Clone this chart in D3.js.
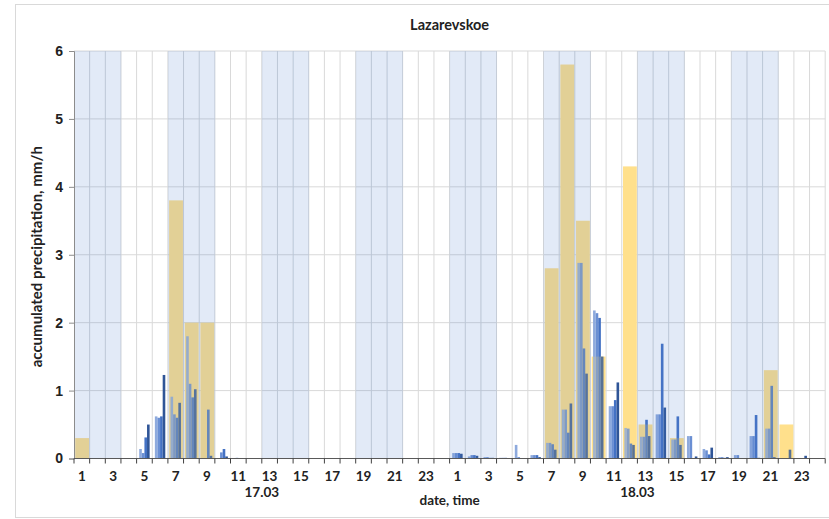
<!DOCTYPE html>
<html>
<head>
<meta charset="utf-8">
<script src="https://cdn.jsdelivr.net/npm/d3@7"></script>
<style>
  body { margin: 0; background: #fff; }
  svg { display: block; font-family: Lato, "Noto Sans", sans-serif; }
</style>
</head>
<body>
<svg id="chart" width="829" height="519"></svg>
<script>
// station and labels
const title = 'Lazarevskoe';
const dayLabels = ['17.03', '18.03'];
const hourLabels = d3.range(1, 25).map(String);
const yTicks = [0, 1, 2, 3, 4, 5, 6];
// shaded hours in each day (1-3, 7-9, 13-15, 19-21)
const shadedHours = [1, 2, 3, 7, 8, 9, 13, 14, 15, 19, 20, 21];

// hourly accumulated precipitation (yellow), hours 1..24
const yellow17 = [0.3, 0, 0, 0, 0, 0, 3.8, 2.0, 2.0, 0, 0, 0, 0, 0, 0, 0, 0, 0, 0, 0, 0, 0, 0, 0];
const yellow18 = [0, 0, 0, 0, 0, 0, 2.8, 5.8, 3.5, 1.5, 0, 4.3, 0.5, 0, 0.3, 0, 0, 0, 0, 0, 1.3, 0.5, 0, 0];

// 10-minute rates (blue), six per hour
const blue17 = [
  [0, 0, 0, 0, 0, 0], [0, 0, 0, 0, 0, 0], [0, 0, 0, 0, 0, 0], [0, 0, 0, 0, 0, 0],
  [0, 0.14, 0.08, 0.31, 0.5, 0], [0, 0.62, 0.6, 0.62, 1.23, 0],
  [0, 0.91, 0.65, 0.6, 0.82, 0], [0, 1.8, 1.1, 0.9, 1.02, 0],
  [0, 0, 0, 0.72, 0.04, 0], [0, 0, 0.09, 0.14, 0.03, 0],
  [0, 0, 0.01, 0, 0, 0], [0, 0, 0, 0, 0, 0],
  [0, 0, 0, 0, 0, 0], [0, 0, 0, 0, 0, 0], [0, 0, 0, 0, 0, 0], [0, 0, 0, 0, 0, 0],
  [0, 0, 0, 0, 0, 0], [0, 0, 0, 0, 0, 0], [0, 0, 0, 0, 0, 0], [0, 0, 0, 0, 0, 0],
  [0, 0, 0, 0, 0, 0], [0, 0, 0, 0, 0, 0], [0, 0, 0, 0, 0, 0], [0, 0, 0, 0, 0, 0]
];
const blue18 = [
  [0, 0.08, 0.08, 0.08, 0.07, 0], [0, 0.03, 0.05, 0.05, 0.04, 0],
  [0, 0.02, 0.02, 0.01, 0.01, 0], [0, 0.01, 0.01, 0.01, 0, 0],
  [0, 0.2, 0.02, 0, 0, 0], [0, 0.05, 0.05, 0.05, 0.02, 0],
  [0, 0.23, 0.23, 0.21, 0.13, 0], [0, 0.72, 0.72, 0.38, 0.81, 0],
  [0, 2.88, 2.88, 1.62, 1.25, 0], [0, 2.18, 2.14, 2.07, 1.5, 0],
  [0, 0.77, 0.77, 0.86, 1.12, 0], [0, 0.45, 0.44, 0.22, 0.2, 0],
  [0, 0.32, 0.32, 0.57, 0.33, 0], [0, 0.65, 0.65, 1.69, 0.75, 0],
  [0, 0.28, 0.28, 0.62, 0.2, 0], [0, 0.33, 0.33, 0, 0.03, 0],
  [0, 0.14, 0.12, 0.06, 0.16, 0], [0, 0.02, 0.02, 0.01, 0.02, 0],
  [0, 0.05, 0.05, 0, 0, 0], [0, 0.33, 0.33, 0.64, 0.01, 0],
  [0, 0.44, 0.44, 1.07, 0.02, 0], [0, 0, 0, 0, 0.13, 0],
  [0, 0, 0, 0, 0.04, 0], [0, 0, 0, 0, 0, 0]
];

const subColors = ['#a9bde6', '#8eaadd', '#6a8fd3', '#4472c4', '#2f5597', '#243f74'];

const svg = d3.select('#chart');
const margin = {left: 74, right: 4, top: 51, bottom: 60};
const W = 829, H = 519;

// categories 0..47 = two days of 24 hours
const cats = d3.range(48);
const x = d3.scaleBand().domain(cats).range([margin.left, 825.2]).padding(0);
const sub = d3.scaleBand().domain(d3.range(6)).range([0, x.bandwidth()]).padding(0);
const y = d3.scaleLinear().domain([0, 6]).range([458.5, margin.top]);
const xEnd = x.range()[1];

// outer border
svg.append('rect')
  .attr('x', 15.5).attr('y', 4.5).attr('width', W).attr('height', H - 6)
  .attr('fill', 'none').attr('stroke', '#d9d9d9');

// grid
svg.append('g').selectAll('line')
  .data(cats.slice(1).concat([48]))
  .join('line')
  .attr('x1', d => d < 48 ? x(d) : xEnd)
  .attr('x2', d => d < 48 ? x(d) : xEnd)
  .attr('y1', y(6)).attr('y2', y(0))
  .attr('stroke', '#d9d9d9').attr('stroke-width', 1);

svg.append('g').selectAll('line')
  .data(yTicks.slice(1))
  .join('line')
  .attr('x1', margin.left).attr('x2', xEnd)
  .attr('y1', d => y(d)).attr('y2', d => y(d))
  .attr('stroke', '#d9d9d9').attr('stroke-width', 1);

// yellow hourly bars
const yellowRows = [];
[yellow17, yellow18].forEach((day, di) => {
  day.forEach((v, hi) => { if (v > 0) yellowRows.push({cat: di * 24 + hi, v: v}); });
});
const yb = x.bandwidth();
function yellowBars(g) {
  g.selectAll('rect')
    .data(yellowRows)
    .join('rect')
    .attr('x', d => x(d.cat) + yb * 0.08)
    .attr('y', d => y(d.v))
    .attr('width', yb * 0.88)
    .attr('height', d => y(0) - y(d.v));
}
svg.append('g').call(yellowBars).selectAll('rect').attr('fill', '#ffe08c');

// blue 10-min bars
const blueRows = [];
[blue17, blue18].forEach((day, di) => {
  day.forEach((hour, hi) => {
    hour.forEach((v, si) => {
      if (v > 0) blueRows.push({cat: di * 24 + hi, si: si, v: v});
    });
  });
});
svg.append('g').selectAll('rect')
  .data(blueRows)
  .join('rect')
  .attr('x', d => x(d.cat) + sub(d.si))
  .attr('y', d => y(d.v))
  .attr('width', sub.bandwidth())
  .attr('height', d => y(0) - y(d.v))
  .attr('fill', d => subColors[d.si]);

// faint yellow veil over the blue bars
svg.append('g').call(yellowBars).selectAll('rect')
  .attr('fill', '#ffe08c').attr('opacity', 0.2);

// shaded bands (translucent, on top)
const shadedCats = cats.filter(c => shadedHours.includes(c % 24 + 1));
svg.append('g').selectAll('rect')
  .data(shadedCats)
  .join('rect')
  .attr('x', d => x(d))
  .attr('y', y(6))
  .attr('width', x.bandwidth() + 0.3)
  .attr('height', y(0) - y(6))
  .attr('fill', '#4a7fd0')
  .attr('opacity', 0.16);

// y axis
const yAxis = svg.append('g')
  .attr('transform', `translate(${margin.left},0)`)
  .call(d3.axisLeft(y).tickValues(yTicks).tickSize(5).tickPadding(6).tickFormat(d3.format('d')));
yAxis.select('.domain').attr('stroke', '#8c8c8c');
yAxis.selectAll('.tick line').attr('stroke', '#8c8c8c');
yAxis.selectAll('text').attr('font-size', 14).attr('font-weight', 700).attr('fill', '#222');

// x axis: ticks on every hour boundary
const xb = svg.append('g').attr('transform', `translate(0,${y(0)})`);
xb.append('line')
  .attr('x1', margin.left).attr('x2', xEnd)
  .attr('stroke', '#595959');
xb.selectAll('line.tk')
  .data(cats.concat([48]))
  .join('line')
  .attr('class', 'tk')
  .attr('x1', d => d < 48 ? x(d) : xEnd)
  .attr('x2', d => d < 48 ? x(d) : xEnd)
  .attr('y1', 0).attr('y2', 5)
  .attr('stroke', '#404040');
xb.selectAll('text.hr')
  .data(cats.filter(c => c % 2 === 0))
  .join('text')
  .attr('class', 'hr')
  .attr('x', d => x(d) + x.bandwidth() / 2)
  .attr('y', 22)
  .attr('text-anchor', 'middle')
  .attr('font-size', 13.5).attr('font-weight', 700).attr('fill', '#222')
  .text(d => hourLabels[d % 24]);

xb.selectAll('text.day')
  .data(dayLabels)
  .join('text')
  .attr('class', 'day')
  .attr('x', (d, i) => x(i * 24 + 12))
  .attr('y', 38)
  .attr('text-anchor', 'middle')
  .attr('font-size', 13.5).attr('font-weight', 700).attr('fill', '#222')
  .text(d => d);

svg.append('text')
  .attr('x', x(24)).attr('y', 505)
  .attr('text-anchor', 'middle')
  .attr('font-size', 13.5).attr('font-weight', 700).attr('fill', '#222')
  .text('date, time');

svg.append('text')
  .attr('transform', `translate(42,${(y(0) + y(6)) / 2 + 2}) rotate(-90)`)
  .attr('text-anchor', 'middle')
  .attr('font-size', 15).attr('font-weight', 700).attr('fill', '#222')
  .text('accumulated precipitation, mm/h');

svg.append('text')
  .attr('x', x(24)).attr('y', 30)
  .attr('text-anchor', 'middle')
  .attr('font-size', 14.5).attr('font-weight', 700).attr('fill', '#222')
  .text(title);
</script>
</body>
</html>
